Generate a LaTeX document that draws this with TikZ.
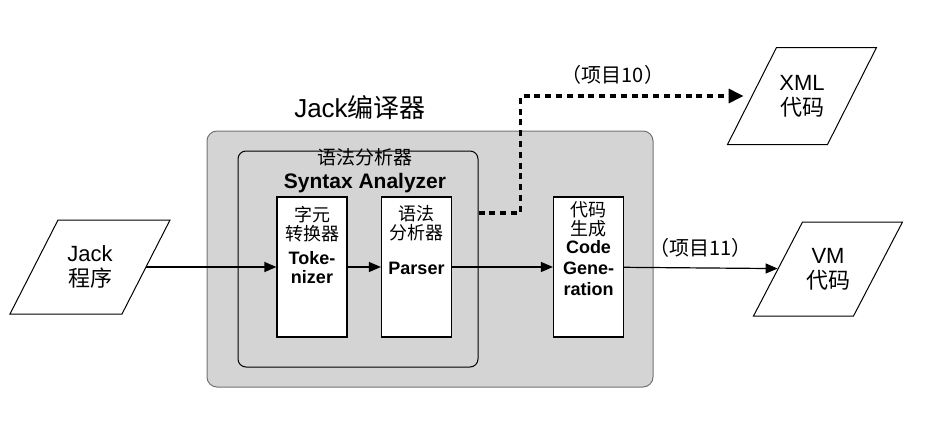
\documentclass[tikz,border=0pt]{standalone}
\usepackage{fontspec}
\setmainfont{Liberation Sans}
\newfontfamily\cjk{Noto Sans CJK SC}
\newcommand{\zh}[1]{{\cjk #1}}
% parallelogram round a named node: name, side, height, slant (in px units)
\newcommand{\ioframe}[4]{\draw[ioline] ([shift={(-#2/2+#4/2,-#3/2)}]#1.center)
  -- ++(#2,0) -- ++(-#4,#3) -- ++(-#2,0) -- cycle;}
\usetikzlibrary{arrows.meta,positioning}

\tikzset{
  io/.style={inner sep=0pt, align=center, font=\fontsize{11}{12.5}\selectfont},
  ioline/.style={line width=0.5pt},
  stage/.style={draw, fill=white, line width=0.6pt, minimum width=35pt,
    minimum height=70pt, inner sep=0pt},
  stagetext/.style={anchor=north, align=center, inner sep=0pt,
    font=\fontsize{9}{9.5}\selectfont},
  tag/.style={inner sep=0pt, font=\fontsize{10}{11}\selectfont},
  flow/.style={line width=0.6pt, -{Triangle[length=6pt,width=5pt]}},
  dotflow/.style={line width=1.6pt, dash pattern=on 3pt off 2.4pt,
    -{Triangle[length=7.5pt,width=7pt]}},
}

\begin{document}
\begin{tikzpicture}[x=0.5pt,y=-0.5pt]
\useasboundingbox (0,0) rectangle (937,423);
% containers
\node[draw=black!55, fill=black!17, line width=0.5pt, rounded corners=5pt,
  minimum width=223pt, minimum height=128pt] (compiler) at (430,259) {};
\node[draw, line width=0.5pt, rounded corners=4pt,
  minimum width=120pt, minimum height=108pt] (analyzer) at (358,259) {};
\node[font=\fontsize{13}{14}\selectfont] (title) at (360,108) {Jack\zh{编译器}};
\node[align=center, inner sep=0pt] (analyzer label) at (365,171)
  {\cjk\fontsize{9.5}{8.5}\selectfont 语法分析器\\
   \fontsize{10.5}{8.5}\selectfont\bfseries Syntax Analyzer};
% stages
\node[stage] (tok) at (312,267) {};
\node[stage] (par) at (416.5,267) {};
\node[stage] (gen) at (588.5,267) {};
\node[stagetext] at ([yshift=-4.5pt]tok.north)
  {\cjk 字元\\\cjk 转换器\\[2.5pt]\bfseries Toke-\\\bfseries nizer};
\node[stagetext] at ([yshift=-4.5pt]par.north)
  {\cjk 语法\\\cjk 分析器\\[8pt]\bfseries Parser};
\node[stagetext] at ([yshift=-2.5pt]gen.north)
  {\cjk 代码\\\cjk 生成\\[-0.5pt]\bfseries Code\\[1pt]\bfseries Gene-\\[1pt]\bfseries ration};
% inputs and outputs
\node[io, minimum width=56pt, minimum height=47pt] (jack) at (90,267) {Jack\\\zh{程序}};
\node[io, minimum width=50pt, minimum height=48.5pt] (xml) at (802,96) {XML\\\zh{代码}};
\node[io, minimum width=50pt, minimum height=47pt] (vm) at (828,269) {VM\\\zh{代码}};
\ioframe{jack}{112}{94}{48}
\ioframe{xml}{100}{97}{49}
\ioframe{vm}{100}{94}{49}
% connectors
\draw[flow] (jack) -- (tok);
\draw[flow] (tok) -- (par);
\draw[flow] (par) -- (gen);
\draw[flow] (gen) -- node[tag, above=5pt] {\zh{（项目11）}} (vm);
\draw[dotflow, shorten >=4pt] (analyzer.east |- 0,213) -- ++(42,0)
  |- node[tag, pos=0.7, above=5pt] {\zh{（项目10）}} (xml);
\end{tikzpicture}
\end{document}
